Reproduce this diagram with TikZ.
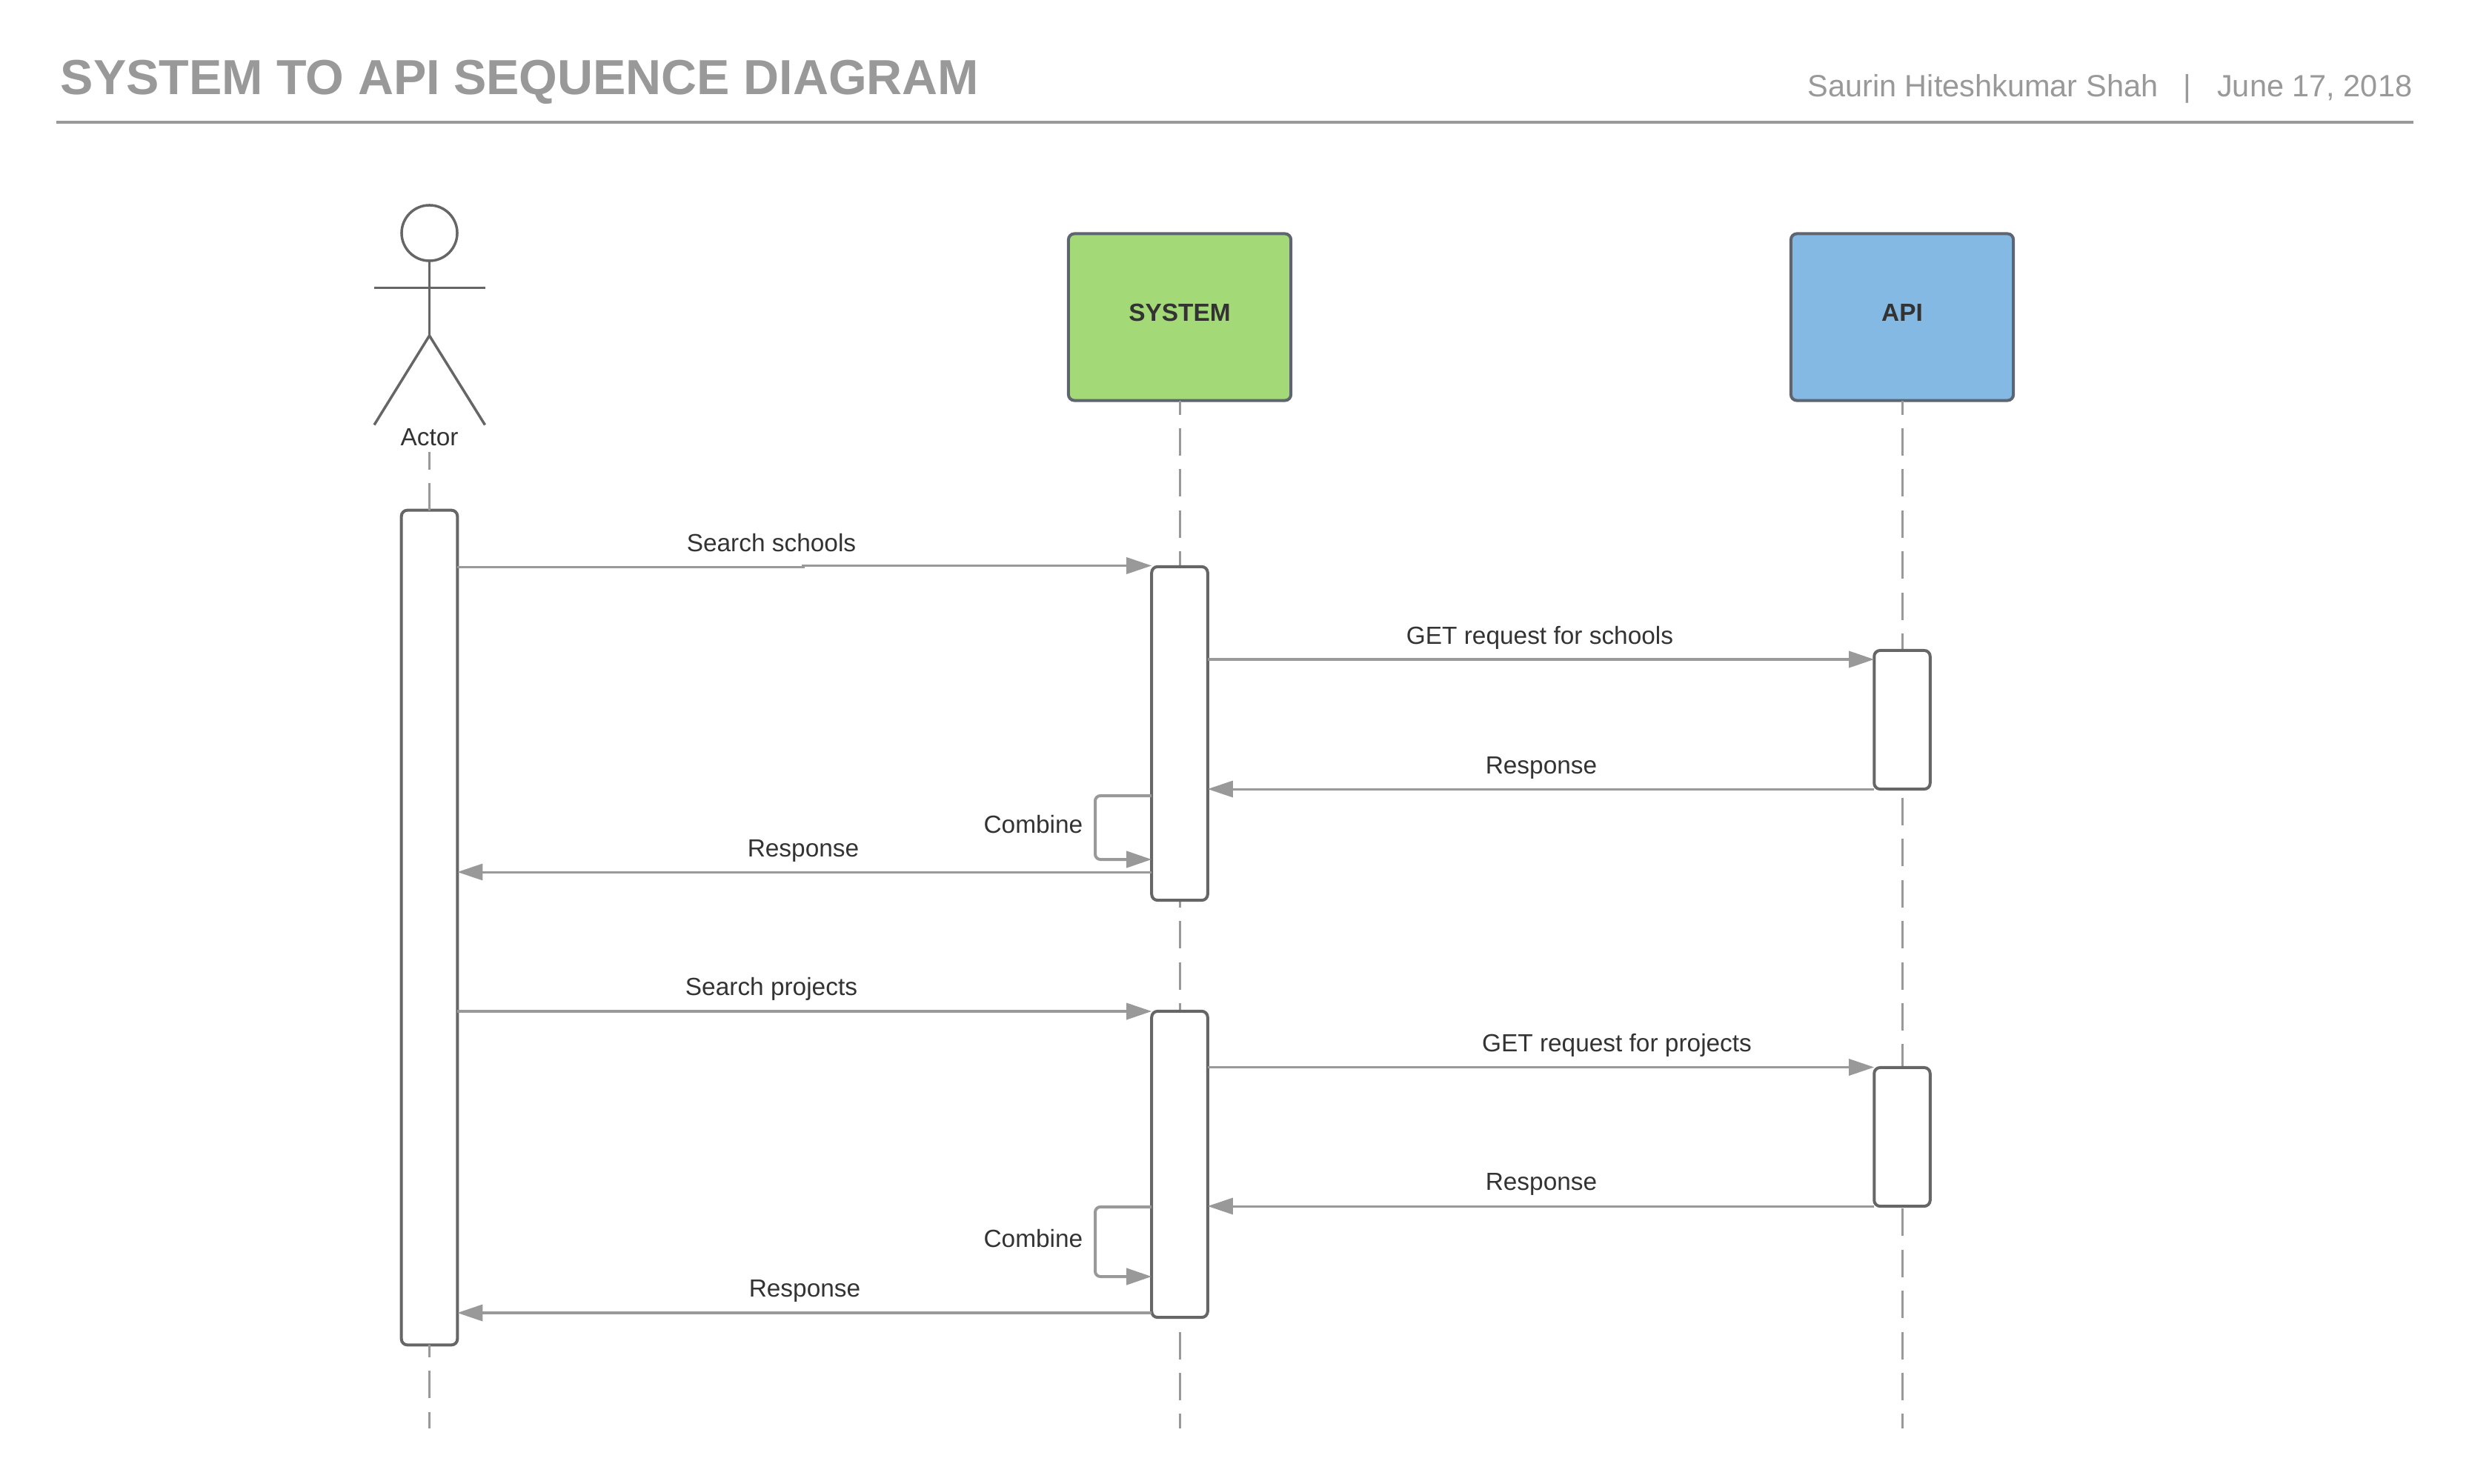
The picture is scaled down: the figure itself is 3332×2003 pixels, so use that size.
\documentclass[tikz,border=0pt]{standalone}
\usepackage{fontspec}
\setmainfont{Liberation Sans}
\usetikzlibrary{arrows.meta}
\definecolor{arrowgray}{HTML}{999999}
\definecolor{boxgray}{HTML}{666666}
\definecolor{boxedge}{HTML}{5E6570}
\definecolor{textdark}{HTML}{333333}
\definecolor{sysgreen}{HTML}{A3D977}
\definecolor{apiblue}{HTML}{83B9E3}
\tikzset{
  x=0.01cm,y=-0.01cm,
  titletext/.style={font=\fontsize{18.9}{22}\selectfont\bfseries,text=arrowgray,inner sep=0pt,anchor=base west},
  metatext/.style={font=\fontsize{11.8}{14}\selectfont,text=arrowgray,inner sep=0pt,anchor=base east},
  headrule/.style={draw=arrowgray,line width=0.04cm},
  lbl/.style={font=\fontsize{9.5}{12}\selectfont,text=textdark,inner sep=0pt},
  boldlbl/.style={font=\fontsize{9.5}{12}\selectfont\bfseries,text=textdark,inner sep=0pt},
  participant/.style={draw=boxedge,line width=0.04cm,rounded corners=0.08cm,minimum width=3cm,minimum height=2.25cm,inner sep=0pt,outer sep=0pt},
  activation/.style={draw=boxgray,fill=white,line width=0.04cm,rounded corners=0.08cm,minimum width=0.755cm,inner sep=0pt,outer sep=0pt},
  lifeline/.style={draw=arrowgray,line width=0.03cm,dash pattern=on 0.37cm off 0.184cm},
  actorline/.style={draw=boxgray,line width=0.035cm},
  msg/.style={draw=arrowgray,line width=0.035cm,-{Triangle[length=0.34cm,width=0.22cm]}},
  back/.style={draw=arrowgray,line width=0.03cm,-{Triangle[length=0.34cm,width=0.22cm]}},
  selfmsg/.style={draw=arrowgray,line width=0.04cm,rounded corners=0.07cm,-{Triangle[length=0.34cm,width=0.22cm]}}
}
\begin{document}
\begin{tikzpicture}
\useasboundingbox (0,0) rectangle (3332,2003);
% header
\node[titletext] (title) at (81,127.5) {SYSTEM TO API SEQUENCE DIAGRAM};
\node[metatext] (meta) at (3256,131) {Saurin Hiteshkumar Shah\ \ \ |\ \ \ June 17, 2018};
\coordinate (ruleL) at (76,165);
\coordinate (ruleR) at (3257,165);
\draw[headrule] (ruleL) -- (ruleR);
% actor
\node[draw=boxgray,line width=0.035cm,circle,minimum size=0.75cm,inner sep=0pt,outer sep=0pt] (head) at (579.5,314.5) {};
\coordinate (hip) at (579.5,453);
\coordinate (armL) at (505,388.5);
\coordinate (armR) at (654.5,388.5);
\coordinate (legL) at (505,573.5);
\coordinate (legR) at (654.5,573.5);
\draw[actorline] (head.south) -- (hip);
\draw[actorline] (armL) -- (armR);
\draw[actorline] (legL) -- (hip) -- (legR);
\node[lbl] (actor) at (579.5,590) {Actor};
% participants
\node[participant,fill=sysgreen] (system) at (1592,428) {};
\node[boldlbl] (systemlabel) at (1592,422) {SYSTEM};
\node[participant,fill=apiblue] (api) at (2567,428) {};
\node[boldlbl] (apilabel) at (2567,422) {API};
% activations geometry first, lifelines beneath
\coordinate (actorTop) at (579.5,610);
\coordinate (actorEnd) at (579.5,1928);
\coordinate (sysEnd) at (1592,1928);
\coordinate (apiEnd) at (2567,1928);
\draw[lifeline,dash phase=0.18cm] (system.south) -- (sysEnd);
\draw[lifeline,dash phase=0.18cm] (api.south) -- (apiEnd);
\node[activation,minimum height=11.26cm] (actA) at (579.5,1252) {};
\draw[lifeline,dash phase=0.13cm] (actorTop) -- (actA.north);
\draw[lifeline,dash phase=0.206cm] (actA.south) -- (actorEnd);
\node[activation,minimum height=4.50cm] (sys1) at (1592,990) {};
\node[activation,minimum height=1.87cm] (api1) at (2567,971.5) {};
\node[activation,minimum height=4.13cm] (sys2) at (1592,1571.5) {};
\node[activation,minimum height=1.87cm] (api2) at (2567,1534.5) {};
% messages
\coordinate (jogA) at (1084,765.5);
\coordinate (jogB) at (1084,763.5);
\draw[msg] (actA.east |- jogA) -- (jogA) -- (jogB) -- (sys1.west |- jogB);
\draw[msg] (sys1.east |- 0,890) -- (api1.west |- 0,890);
\draw[back] (api1.west |- 0,1065) -- (sys1.east |- 0,1065);
\draw[selfmsg] (sys1.west |- 0,1074) -- (1478,1074) -- (1478,1160) -- (sys1.west |- 0,1160);
\draw[back] (sys1.west |- 0,1177) -- (actA.east |- 0,1177);
\draw[msg] (actA.east |- 0,1365) -- (sys2.west |- 0,1365);
\draw[msg] (sys2.east |- 0,1440.5) -- (api2.west |- 0,1440.5);
\draw[back] (api2.west |- 0,1628) -- (sys2.east |- 0,1628);
\draw[selfmsg] (sys2.west |- 0,1629) -- (1478,1629) -- (1478,1723) -- (sys2.west |- 0,1723);
\draw[msg] (sys2.west |- 0,1772) -- (actA.east |- 0,1772);
% labels
\node[lbl] (l1) at (1041,733) {Search schools};
\node[lbl] (l2) at (2078,861) {GET request for schools};
\node[lbl] (l3) at (2080,1036) {Response};
\node[lbl,anchor=east] (l4) at (1462,1113) {Combine};
\node[lbl] (l5) at (1084,1148) {Response};
\node[lbl] (l6) at (1041,1335) {Search projects};
\node[lbl] (l7) at (2182,1411) {GET request for projects};
\node[lbl] (l8) at (2080,1598) {Response};
\node[lbl,anchor=east] (l9) at (1462,1672) {Combine};
\node[lbl] (l10) at (1086,1742) {Response};
\end{tikzpicture}
\end{document}
